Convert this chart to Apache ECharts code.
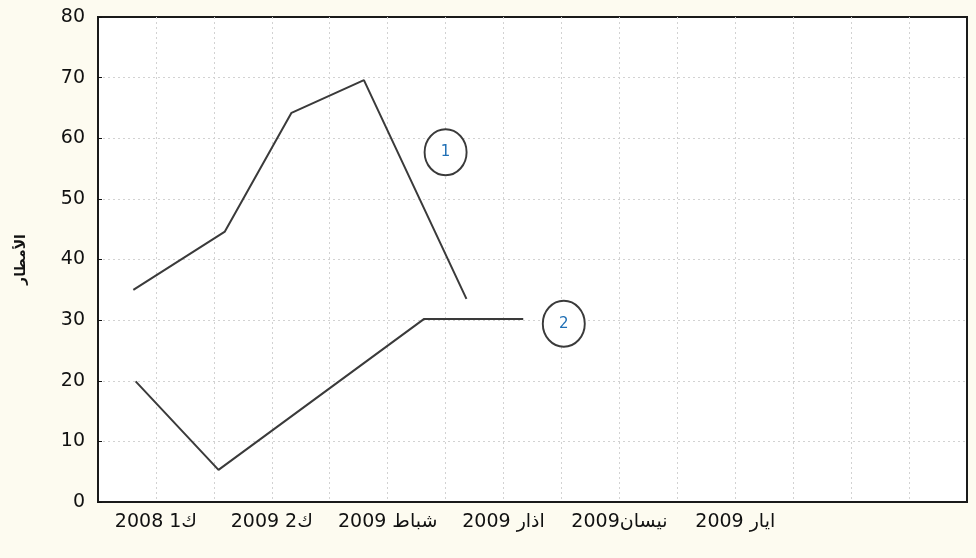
<!DOCTYPE html>
<html>
<head>
<meta charset="utf-8">
<script src="https://cdn.jsdelivr.net/npm/echarts@6/dist/echarts.min.js"></script>
<style>
  html, body { margin: 0; padding: 0; background: #fdfbf0; }
  #chart { width: 976px; height: 558px; }
</style>
</head>
<body>
<div id="chart"></div>
<script>
// month labels sit on every second unit of the x axis
const monthLabels = ["ك1 2008", "ك2 2009", "شباط 2009", "اذار 2009", "نيسان2009", "ايار 2009"];
const monthPositions = [1, 3, 5, 7, 9, 11];

const curve1X = [0.61, 2.19, 3.34, 4.59, 6.36];
const curve1Y = [35.0, 44.6, 64.2, 69.6, 33.5];

const curve2X = [0.65, 2.08, 5.63, 7.34];
const curve2Y = [19.9, 5.3, 30.2, 30.2];

// circled curve numbers
const noteNames = ["1", "2"];
const noteX = [6.0, 8.04];
const noteY = [57.7, 29.4];

const yTicks = [0, 10, 20, 30, 40, 50, 60, 70, 80];

const lineColor = "#3a3a3a";
const gridColor = "#d2d2d2";
const font = "DejaVu Sans";

const chart = echarts.init(document.getElementById("chart"));

const labelFor = {};
monthPositions.forEach((p, i) => { labelFor[p] = monthLabels[i]; });

const pairs = (xs, ys) => xs.map((x, i) => [x, ys[i]]);

const dotted = {
  showMinLine: false,
  showMaxLine: false,
  lineStyle: { color: gridColor, type: [2, 3], width: 1 },
};

chart.setOption({
  backgroundColor: "#fdfbf0",
  animation: false,
  grid: {
    left: 98,
    right: 9,
    top: 17,
    bottom: 56,
    show: true,
    backgroundColor: "#ffffff",
    borderColor: "#1a1a1a",
    borderWidth: 2,
  },
  xAxis: {
    type: "value",
    min: 0,
    max: 15,
    interval: 1,
    axisLine: { show: false },
    axisTick: { show: false },
    splitLine: dotted,
    axisLabel: {
      color: "#111",
      fontFamily: font,
      fontSize: 19,
      margin: 11,
      formatter: (v) => labelFor[v] || "",
    },
  },
  yAxis: {
    type: "value",
    min: yTicks[0],
    max: yTicks[yTicks.length - 1],
    interval: 10,
    name: "الأمطار",
    nameLocation: "middle",
    nameGap: 70,
    nameTextStyle: { color: "#111", fontFamily: font, fontSize: 14, fontWeight: "bold" },
    axisLine: { show: false },
    axisTick: { show: true, inside: true, length: 4, lineStyle: { color: "#111" } },
    splitLine: dotted,
    axisLabel: {
      color: "#111",
      fontFamily: font,
      fontSize: 19,
      margin: 13,
    },
  },
  series: [
    {
      type: "line",
      data: pairs(curve1X, curve1Y),
      symbol: "none",
      lineStyle: { color: lineColor, width: 2 },
    },
    {
      type: "line",
      data: pairs(curve2X, curve2Y),
      symbol: "none",
      lineStyle: { color: lineColor, width: 2 },
    },
    {
      type: "scatter",
      data: noteX.map((x, i) => ({ value: [x, noteY[i]], name: noteNames[i] })),
      symbol: "circle",
      symbolSize: [42, 46],
      itemStyle: { color: "#ffffff", borderColor: lineColor, borderWidth: 2, opacity: 1 },
      label: {
        show: true,
        position: "inside",
        formatter: (p) => p.name,
        color: "#1f6fb5",
        fontFamily: font,
        fontSize: 15,
      },
      z: 5,
    },
  ],
});
</script>
</body>
</html>
